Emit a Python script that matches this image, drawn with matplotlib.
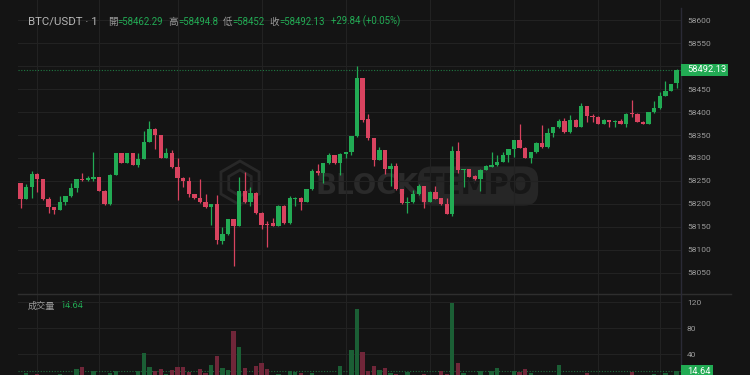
import matplotlib
matplotlib.use('Agg')
import matplotlib.pyplot as plt
from matplotlib.patches import Rectangle, RegularPolygon
from matplotlib.transforms import IdentityTransform
import numpy as np

# 1-minute BTC/USDT candles
opens = [58245, 58211, 58237, 58265, 58254, 58211, 58193, 58187, 58204, 58217,
         58234, 58254, 58251, 58255, 58258, 58229, 58199, 58263, 58310, 58290,
         58310, 58285, 58298, 58335, 58364, 58350, 58301, 58310, 58280, 58257,
         58250, 58221, 58213, 58203, 58194, 58199, 58120, 58134, 58166, 58152,
         58228, 58203, 58224, 58181, 58157, 58158, 58152, 58196, 58158, 58211,
         58213, 58204, 58232, 58272, 58267, 58288, 58306, 58288, 58309, 58312,
         58347, 58474, 58384, 58343, 58296, 58317, 58277, 58282, 58232, 58201,
         58203, 58221, 58239, 58205, 58226, 58212, 58199, 58178, 58315, 58274,
         58276, 58261, 58254, 58274, 58281, 58284, 58292, 58306, 58319, 58339,
         58322, 58301, 58312, 58333, 58323, 58354, 58367, 58381, 58356, 58383,
         58368, 58413, 58392, 58390, 58375, 58382, 58378, 58381, 58374, 58397,
         58396, 58379, 58374, 58400, 58408, 58436, 58446, 58462.29]
highs = [58246, 58243, 58272, 58267, 58255, 58216, 58194, 58217, 58218, 58245,
         58255, 58268, 58261, 58314, 58259, 58230, 58264, 58311, 58311, 58311,
         58311, 58311, 58359, 58381, 58365, 58351, 58321, 58317, 58299, 58258,
         58259, 58222, 58254, 58221, 58200, 58219, 58150, 58167, 58167, 58258,
         58270, 58236, 58225, 58182, 58163, 58169, 58197, 58197, 58217, 58214,
         58214, 58233, 58277, 58286, 58289, 58310, 58307, 58310, 58313, 58348,
         58500, 58475, 58396, 58344, 58323, 58318, 58288, 58288, 58233, 58214,
         58230, 58243, 58240, 58227, 58239, 58213, 58213, 58325, 58335, 58277,
         58277, 58262, 58275, 58284, 58314, 58306, 58314, 58320, 58340, 58374,
         58323, 58313, 58334, 58372, 58365, 58368, 58386, 58388, 58394, 58384,
         58419, 58414, 58396, 58391, 58384, 58383, 58382, 58385, 58397, 58426,
         58397, 58380, 58401, 58425, 58444, 58468, 58462, 58494.8]
lows = [58190, 58210, 58212, 58226, 58209, 58181, 58178, 58186, 58197, 58216,
        58226, 58250, 58250, 58249, 58228, 58198, 58198, 58262, 58289, 58289,
        58284, 58281, 58297, 58334, 58319, 58300, 58300, 58279, 58208, 58237,
        58216, 58211, 58202, 58192, 58154, 58112, 58112, 58133, 58065, 58151,
        58202, 58196, 58178, 58145, 58107, 58151, 58151, 58157, 58157, 58196,
        58187, 58203, 58231, 58263, 58246, 58287, 58287, 58263, 58299, 58307,
        58346, 58379, 58339, 58283, 58295, 58265, 58239, 58231, 58200, 58181,
        58202, 58220, 58192, 58204, 58210, 58198, 58177, 58174, 58267, 58236,
        58258, 58253, 58229, 58273, 58280, 58283, 58291, 58292, 58303, 58321,
        58300, 58290, 58311, 58322, 58322, 58346, 58366, 58355, 58355, 58367,
        58367, 58379, 58379, 58374, 58374, 58368, 58368, 58373, 58368, 58390,
        58378, 58373, 58373, 58399, 58407, 58435, 58445, 58452]
closes = [58211, 58237, 58265, 58254, 58210, 58193, 58187, 58204, 58217, 58234,
          58254, 58251, 58256, 58258, 58229, 58199, 58263, 58310, 58290, 58310,
          58285, 58298, 58335, 58364, 58350, 58301, 58310, 58280, 58257, 58250,
          58221, 58212, 58203, 58193, 58199, 58121, 58134, 58166, 58152, 58228,
          58203, 58224, 58181, 58154, 58155, 58152, 58196, 58158, 58212, 58213,
          58204, 58232, 58272, 58268, 58288, 58306, 58288, 58309, 58312, 58347,
          58474, 58383, 58343, 58296, 58317, 58277, 58282, 58232, 58201, 58203,
          58221, 58239, 58205, 58226, 58211, 58199, 58178, 58315, 58274, 58276,
          58259, 58254, 58274, 58283, 58284, 58292, 58306, 58319, 58339, 58322,
          58301, 58312, 58333, 58323, 58354, 58367, 58381, 58356, 58383, 58368,
          58413, 58391, 58390, 58375, 58383, 58378, 58381, 58374, 58396, 58395,
          58379, 58374, 58400, 58408, 58436, 58446, 58461, 58492.13]
volumes = [6, 12, 7, 10, 6, 5, 4, 10, 5, 6,
           18, 20, 5, 15, 6, 7, 11.5, 15, 5, 4,
           6, 14.5, 42, 20, 14, 18, 10, 16, 20, 20,
           13, 6, 18, 11.5, 24, 37.5, 19, 16, 75, 52,
           19, 7, 22.6, 26, 18, 6, 10, 5, 14.5, 13.5,
           11, 6, 11, 5, 7, 4, 6, 22, 7, 47,
           109, 43, 15, 22, 16, 18.6, 11, 10, 6, 13.6,
           5, 6, 9.5, 5, 7, 14.5, 10, 119, 27, 11,
           6, 5, 14.5, 6, 14.5, 19.6, 7, 6, 14.5, 13,
           17, 11, 6, 7, 5, 6, 23, 6, 7, 5,
           6, 11, 4, 5, 4, 3, 4, 5, 6, 13,
           5, 4, 7, 10, 6, 12, 7, 14.64]

change_text = '+29.84 (+0.05%)'
price_ticks = list(range(58050, 58601, 50))
volume_ticks = [40, 80, 120]
time_grid = [3, 14, 28, 43, 58, 73, 88, 103, 114]

BG = '#141414'
GRID = '#222222'
UP = '#22ab54'
DOWN = '#d8435f'
UP_VOL = '#1b5f35'
DOWN_VOL = '#702639'
TXT = '#9a9a9a'
FONT = ['Roboto', 'Noto Sans CJK TC', 'DejaVu Sans']

W, H = 750, 375


def rect(x0, y0, x1, y1):
    # pixel box (top-left origin) -> figure fraction
    return [x0 / W, 1 - y1 / H, (x1 - x0) / W, (y1 - y0) / H]


fig = plt.figure(figsize=(7.5, 3.75), dpi=100, facecolor=BG)
ax = fig.add_axes(rect(18, 0, 681, 293.5))
axv = fig.add_axes(rect(18, 293.5, 681, 375), sharex=ax)

o = np.array(opens)
c = np.array(closes)
x = np.arange(len(c))
up = c >= o
cols = np.where(up, UP, DOWN)

ax.vlines(x, lows, highs, colors=cols, lw=0.9, zorder=2)
ax.bar(x, np.maximum(np.abs(c - o), 2), bottom=np.minimum(o, c), width=0.77,
       color=cols, zorder=3)
ax.axhline(closes[-1], color='#1e7a42', lw=0.8, ls=(0, (1, 1.5)), zorder=1)

axv.bar(x, volumes, width=0.77, color=np.where(up, UP_VOL, DOWN_VOL), zorder=2)
axv.axhline(volumes[-1], color='#1e6b3c', lw=0.8, ls=(0, (1, 1.5)), zorder=1)

ax.set_xlim(-0.446, 117.78)
ax.set_ylim(58004.7, 58644.2)
axv.set_ylim(8.4, 133.1)

for a, ticks in ((ax, price_ticks), (axv, volume_ticks)):
    a.set_facecolor('none')
    for s in a.spines.values():
        s.set_visible(False)
    a.yaxis.tick_right()
    a.set_yticks(ticks)
    a.set_xticks(time_grid)
    a.tick_params(axis='y', length=0, pad=4.3, labelsize=6, labelcolor=TXT)
    a.tick_params(axis='x', length=0, labelbottom=False)
    a.grid(True, color=GRID, lw=0.8, zorder=0)
    a.set_axisbelow(True)

# the 58500 label sits under the last-price badge, so leave it blank
ax.set_yticklabels(['' if abs(t - closes[-1]) < 20 else str(t) for t in price_ticks])
for a in (ax, axv):
    for lab in a.get_yticklabels():
        lab.set_family(FONT)

# pane separator and right scale line
fig.add_artist(plt.Line2D([18 / W, 731 / W], [1 - 293.5 / H] * 2, color='#2e2e2e', lw=1))
fig.add_artist(plt.Line2D([681 / W] * 2, [0, 1 - 8 / H], color='#2a2a36', lw=1))

# watermark behind the candles
idt = IdentityTransform()
for r in (22, 13):
    fig.add_artist(RegularPolygon((240, H - 183), 6, radius=r, fill=False,
                                  ec='#282828', lw=2, transform=idt, zorder=-1))
fig.text(367 / W, 1 - 186 / H, 'BLOCK', fontsize=20, fontweight='bold', color='#2a2a2a',
         ha='center', va='center', zorder=-1)
fig.text(478 / W, 1 - 186 / H, 'TEMPO', fontsize=20, fontweight='bold', color='#171717',
         ha='center', va='center', zorder=-1,
         bbox=dict(boxstyle='round,pad=0.2,rounding_size=0.5', fc='#262626', ec='none'))

# header legend
prev = fig.text(28 / W, 1 - 21.7 / H, 'BTC/USDT · 1', color='#b4b4b4', fontsize=8.2,
                va='center', family=FONT)
parts = [('開', TXT, 7.5), ('=' + str(opens[-1]), UP, 0), ('高', TXT, 3.6),
         ('=' + str(highs[-1]), UP, 0), ('低', TXT, 3.6), ('=' + str(lows[-1]), UP, 0),
         ('收', TXT, 3.6), ('=' + str(closes[-1]), UP, 0),
         (change_text, UP, 4.3)]
for s, col, gap in parts:
    prev = ax.annotate(s, xy=(1, 0.5), xycoords=prev, xytext=(gap, 0),
                       textcoords='offset points', va='center', ha='left',
                       color=col, fontsize=6.9, family=FONT, annotation_clip=False)

prev = fig.text(27.5 / W, 1 - 306 / H, '成交量', color=TXT, fontsize=6.6, va='center', family=FONT)
ax.annotate(str(volumes[-1]), xy=(1, 0.5), xycoords=prev, xytext=(3.8, 0),
            textcoords='offset points', va='center', color=UP, fontsize=6.6, family=FONT,
            annotation_clip=False)

# last value badges on the right scale
for (y0, y1, x1, label) in ((64, 75.7, 728, '%.2f' % closes[-1]),
                            (365, 377, 713, str(volumes[-1]))):
    fig.add_artist(Rectangle((681, H - y1), x1 - 681, y1 - y0, fc='#22ab54', ec='none',
                             transform=idt, zorder=4))
    fig.text(687 / W, 1 - (y0 + y1) / 2 / H, label, color='white', fontsize=6.7,
             va='center', family=FONT, zorder=5)

fig.savefig('out.png', dpi=100, facecolor=BG)
